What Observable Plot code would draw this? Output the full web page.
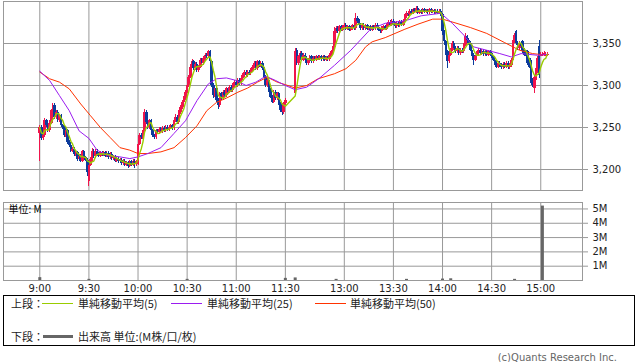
<!DOCTYPE html>
<html><head><meta charset="utf-8">
<script src="https://cdn.jsdelivr.net/npm/d3@7"></script>
<script src="https://cdn.jsdelivr.net/npm/@observablehq/plot@0.6"></script>
<style>
body{margin:0;background:#fff;}
#root{position:relative;width:638px;height:362px;overflow:hidden;font-family:"DejaVu Sans",sans-serif;background:#fff;}
#root svg{position:absolute;left:0;}
.abs{position:absolute;white-space:nowrap;}
.lg{font-family:"Noto Sans CJK JP",sans-serif;font-size:11px;line-height:14px;color:#222;}
#legend{position:absolute;left:3px;top:295px;width:632px;height:51px;box-sizing:border-box;border:1px solid #000;}
#copy{position:absolute;right:21px;top:352px;font-size:10px;line-height:12px;color:#666;font-family:"DejaVu Sans",sans-serif;}
</style></head><body>
<div id="root">
  <div id="legend"></div>
  <div class="abs lg" style="left:11px;top:296px">上段：</div>
  <div class="abs" style="left:42px;top:303px;width:31px;height:1px;background:#99cc00"></div>
  <div class="abs lg" style="left:78px;top:296px">単純移動平均(5)</div>
  <div class="abs" style="left:171px;top:303px;width:31px;height:1px;background:#9b1cf0"></div>
  <div class="abs lg" style="left:207px;top:296px">単純移動平均(25)</div>
  <div class="abs" style="left:315px;top:303px;width:31px;height:1px;background:#ff3300"></div>
  <div class="abs lg" style="left:350px;top:296px">単純移動平均(50)</div>
  <div class="abs lg" style="left:11px;top:329px">下段：</div>
  <div class="abs" style="left:43px;top:335px;width:30px;height:3px;background:#666"></div>
  <div class="abs lg" style="left:78px;top:329px">出来高 単位:(M株/口/枚)</div>
  <div id="copy">(c)Quants Research Inc.</div>
</div>
<script>
// ---- tick data ----
const tickSlots  = [0, 30, 60, 90, 120, 150, 186, 216, 246, 276, 306];
const tickLabels = ["9:00","9:30","10:00","10:30","11:00","11:30","13:00","13:30","14:00","14:30","15:00"];
const priceTicks = [3200, 3250, 3300, 3350];
const volTicks   = [1, 2, 3, 4, 5];
const afternoonStartSlot = 156;

// ---- morning 1-minute candles (9:00-11:30) ----
const amOpen = [
3243,3250,3237,3240,3258,3252,3246,3255,3270,3276,
3262,3268,3258,3264,3252,3250,3240,3246,3232,3228,
3222,3224,3218,3220,3212,3216,3210,3221,3214,3211,
3186,3205,3212,3222,3215,3222,3218,3216,3220,3218,
3220,3216,3219,3214,3218,3213,3215,3210,3212,3209,
3211,3207,3210,3205,3208,3204,3209,3205,3210,3206,
3208,3230,3241,3238,3245,3268,3256,3250,3258,3246,
3240,3238,3246,3244,3248,3245,3249,3246,3250,3247,
3250,3252,3249,3258,3262,3256,3268,3274,3280,3284,
3292,3300,3310,3322,3328,3320,3325,3318,3322,3330,
3326,3332,3336,3334,3340,3328,3300,3288,3296,3282,
3276,3290,3284,3292,3288,3296,3292,3298,3294,3300,
3304,3300,3306,3302,3308,3312,3316,3312,3316,3314,
3318,3322,3326,3320,3328,3324,3326,3320,3310,3300,
3306,3294,3286,3280,3292,3284,3290,3278,3270,3268,
3278];
const amHigh = [
3252,3252,3244,3261,3260,3254,3258,3272,3279,3278,
3270,3270,3266,3266,3254,3252,3248,3248,3234,3230,
3226,3226,3222,3222,3218,3218,3223,3223,3216,3213,
3207,3214,3225,3224,3224,3224,3220,3222,3221,3222,
3222,3221,3221,3220,3220,3217,3217,3214,3214,3213,
3213,3212,3212,3210,3210,3211,3211,3212,3212,3211,
3233,3243,3243,3247,3271,3270,3258,3260,3260,3248,
3242,3248,3248,3250,3250,3251,3251,3252,3252,3252,
3254,3254,3260,3265,3264,3270,3276,3282,3287,3294,
3303,3312,3325,3331,3330,3327,3327,3324,3332,3332,
3334,3338,3338,3342,3342,3330,3302,3298,3298,3284,
3292,3292,3294,3294,3298,3298,3300,3300,3302,3306,
3306,3308,3308,3310,3314,3318,3318,3318,3318,3320,
3324,3328,3328,3330,3330,3328,3328,3322,3312,3308,
3308,3296,3288,3294,3294,3292,3292,3280,3272,3280,
3284];
const amLow = [
3210,3235,3235,3238,3250,3244,3244,3253,3268,3260,
3260,3256,3256,3250,3248,3238,3238,3230,3226,3220,
3220,3216,3216,3210,3210,3208,3208,3212,3209,3192,
3180,3203,3210,3213,3213,3216,3214,3214,3216,3216,
3214,3214,3212,3212,3211,3211,3208,3208,3207,3207,
3205,3205,3203,3203,3201,3202,3203,3203,3201,3204,
3205,3228,3236,3236,3243,3254,3248,3248,3244,3238,
3236,3236,3242,3242,3243,3243,3244,3244,3245,3245,
3248,3247,3247,3256,3254,3254,3266,3272,3278,3282,
3290,3298,3308,3320,3318,3318,3316,3316,3320,3324,
3324,3330,3332,3332,3326,3298,3284,3286,3280,3272,
3274,3282,3282,3286,3286,3290,3290,3292,3292,3298,
3298,3298,3300,3300,3306,3310,3310,3310,3312,3312,
3316,3320,3318,3318,3322,3322,3318,3308,3298,3298,
3292,3284,3278,3278,3282,3282,3276,3268,3264,3266,
3276];
const amClose = [
3250,3237,3240,3258,3252,3246,3255,3270,3276,3262,
3268,3258,3264,3252,3250,3240,3246,3232,3228,3222,
3224,3218,3220,3212,3216,3210,3221,3214,3211,3196,
3205,3212,3222,3215,3222,3218,3216,3220,3218,3220,
3216,3219,3214,3218,3213,3215,3210,3212,3209,3211,
3207,3210,3205,3208,3204,3209,3205,3210,3206,3209,
3230,3241,3238,3245,3268,3256,3250,3258,3246,3240,
3238,3246,3244,3248,3245,3249,3246,3250,3247,3250,
3252,3249,3258,3262,3256,3268,3274,3280,3284,3292,
3300,3310,3322,3328,3320,3325,3318,3322,3330,3326,
3332,3336,3334,3340,3328,3300,3288,3296,3282,3276,
3290,3284,3292,3288,3296,3292,3298,3294,3300,3304,
3300,3306,3302,3308,3312,3316,3312,3316,3314,3318,
3322,3326,3320,3328,3324,3326,3320,3310,3300,3306,
3294,3286,3280,3292,3284,3290,3278,3270,3268,3278,
3282];

// ---- afternoon 1-minute candles (12:30-15:00) ----
const pmOpen = [
3290,3342,3326,3334,3338,3330,3336,3332,3326,3330,
3334,3328,3332,3330,3334,3332,3334,3331,3334,3330,
3333,3331,3336,3340,3345,3364,3368,3364,3370,3366,
3369,3372,3367,3370,3366,3368,3371,3368,3380,3376,
3372,3368,3372,3368,3371,3367,3370,3366,3370,3368,
3372,3369,3366,3364,3368,3370,3367,3372,3375,3372,
3376,3373,3370,3374,3371,3375,3372,3376,3382,3386,
3384,3388,3386,3390,3388,3392,3386,3389,3387,3390,
3388,3389,3387,3390,3388,3389,3387,3388,3386,3388,
3384,3364,3352,3340,3328,3336,3342,3350,3344,3340,
3344,3338,3342,3340,3348,3358,3354,3350,3342,3336,
3330,3334,3338,3342,3338,3341,3337,3340,3336,3340,
3338,3334,3330,3326,3322,3326,3324,3321,3325,3322,
3326,3321,3324,3330,3352,3364,3350,3344,3350,3352,
3342,3340,3340,3330,3330,3306,3296,3306,3316,3346,
3335,3336,3336,3336,3336];
const pmHigh = [
3344,3344,3336,3340,3340,3338,3338,3334,3332,3336,
3336,3334,3334,3336,3336,3336,3336,3336,3336,3335,
3335,3338,3342,3347,3369,3370,3370,3372,3372,3371,
3374,3374,3372,3372,3370,3373,3373,3386,3382,3378,
3374,3374,3374,3373,3373,3372,3372,3372,3372,3374,
3374,3371,3368,3370,3372,3372,3374,3377,3377,3378,
3378,3375,3376,3376,3377,3377,3378,3384,3388,3388,
3390,3390,3392,3392,3394,3394,3391,3391,3392,3392,
3391,3391,3392,3392,3391,3391,3390,3390,3390,3390,
3386,3366,3354,3342,3338,3344,3352,3352,3346,3346,
3346,3344,3344,3350,3362,3360,3356,3352,3344,3338,
3336,3340,3344,3344,3343,3343,3342,3342,3342,3342,
3340,3336,3332,3328,3328,3328,3326,3327,3327,3328,
3328,3326,3332,3354,3362,3366,3352,3352,3352,3354,
3344,3342,3342,3332,3332,3308,3312,3320,3334,3354,
3339,3339,3340,3339,3339];
const pmLow = [
3288,3324,3324,3332,3328,3328,3330,3324,3324,3328,
3326,3326,3328,3328,3330,3330,3329,3329,3328,3328,
3329,3329,3334,3338,3343,3362,3362,3362,3364,3364,
3367,3365,3365,3364,3364,3366,3366,3366,3374,3370,
3366,3366,3366,3366,3365,3365,3364,3364,3366,3366,
3367,3364,3362,3362,3366,3365,3365,3370,3370,3370,
3371,3368,3368,3369,3369,3370,3370,3374,3380,3382,
3382,3384,3384,3386,3386,3384,3384,3385,3385,3386,
3386,3385,3385,3386,3386,3385,3385,3384,3384,3382,
3360,3348,3336,3320,3326,3334,3340,3342,3338,3338,
3336,3336,3338,3338,3346,3352,3348,3340,3334,3324,
3328,3332,3336,3336,3336,3335,3335,3334,3334,3336,
3332,3328,3324,3320,3320,3322,3319,3319,3320,3320,
3319,3319,3322,3328,3350,3348,3342,3342,3344,3338,
3334,3332,3324,3320,3302,3298,3290,3304,3314,3308,
3334,3335,3335,3335,3335];
const pmClose = [
3340,3326,3334,3338,3330,3336,3332,3326,3330,3334,
3328,3332,3330,3334,3332,3334,3331,3334,3330,3333,
3331,3336,3340,3345,3364,3368,3364,3370,3366,3369,
3372,3367,3370,3366,3368,3371,3368,3380,3376,3372,
3368,3372,3368,3371,3367,3370,3366,3370,3368,3372,
3369,3366,3364,3368,3370,3367,3372,3375,3372,3376,
3373,3370,3374,3371,3375,3372,3376,3382,3386,3384,
3388,3386,3390,3388,3392,3386,3389,3387,3390,3388,
3389,3387,3390,3388,3389,3387,3388,3386,3388,3384,
3364,3352,3340,3328,3336,3342,3350,3344,3340,3344,
3338,3342,3340,3348,3358,3354,3350,3342,3336,3330,
3334,3338,3342,3338,3341,3337,3340,3336,3340,3338,
3334,3330,3326,3322,3326,3324,3321,3325,3322,3326,
3321,3324,3330,3352,3360,3350,3344,3350,3346,3340,
3336,3334,3326,3322,3306,3300,3310,3318,3332,3312,
3337,3337,3338,3337,3337];

// ---- moving averages (include previous-day carry-over) ----
const ma25Slots = [0,6,12,18,24,30,35,41,49,55,60,66,74,82,89,96,103,108,114,120,126,132,138,144,150,156,163,171,180,190,202,211,223,233,245,252,259,265,273,281,288,294,304,310];
const ma25Values = [3317,3306,3288,3270,3246,3237,3223,3217,3215,3213,3215,3219,3226,3243,3258,3282,3302,3308,3309,3306,3300,3304,3311,3306,3300,3295,3298,3309,3324,3342,3367,3374,3377,3383,3386,3374,3360,3346,3342,3338,3334,3338,3336,3337];
const ma50Slots = [0,6,12,18,25,31,37,43,49,55,60,66,74,82,89,96,102,108,114,121,127,133,139,145,150,156,163,170,180,187,193,199,203,211,223,231,240,246,253,263,273,284,293,301,310];
const ma50Values = [3316,3308,3304,3296,3278,3264,3250,3238,3226,3223,3219,3219,3221,3226,3238,3252,3270,3280,3285,3292,3297,3304,3310,3304,3301,3297,3300,3308,3314,3320,3330,3346,3352,3357,3367,3373,3379,3379,3375,3369,3362,3351,3342,3338,3336];

// ---- volume (M shares) ----
const volSlots  = [0, 30, 90, 150, 156, 181, 224, 246, 251, 290, 307];
const volValues = [0.2, 0.08, 0.08, 0.15, 0.18, 0.08, 0.08, 0.1, 0.12, 0.08, 5.2];

// ---- build tables ----
const candles = [];
amOpen.forEach((o, i) => candles.push({slot: i, open: o, high: amHigh[i], low: amLow[i], close: amClose[i]}));
pmOpen.forEach((o, i) => candles.push({slot: afternoonStartSlot + i, open: o, high: pmHigh[i], low: pmLow[i], close: pmClose[i]}));
const ma25 = ma25Slots.map((s, i) => ({slot: s, v: ma25Values[i]}));
const ma50 = ma50Slots.map((s, i) => ({slot: s, v: ma50Values[i]}));
const volume = volSlots.map((s, i) => ({slot: s, v: volValues[i]}));
const labelBySlot = new Map(tickSlots.map((s, i) => [s, tickLabels[i]]));

const UP = "#f0144c", DOWN = "#0c3b9c", GRID = "#999", TXT = "#222";
const xDomain = [-22.17, 331.5];
const color = d => d.close >= d.open ? UP : DOWN;

const price = Plot.plot({
  width: 638, height: 192,
  marginTop: 1, marginBottom: 2, marginLeft: 3, marginRight: 56,
  x: {domain: xDomain, axis: null},
  y: {domain: [3175, 3400], axis: null},
  style: {fontFamily: "DejaVu Sans", fontSize: "10px", background: "white", color: TXT},
  marks: [
    Plot.gridX(tickSlots, {stroke: GRID, strokeOpacity: 1}),
    Plot.gridY(priceTicks, {stroke: GRID, strokeOpacity: 1}),
    Plot.ruleX(candles, {x: "slot", y1: "low", y2: "high", stroke: color, strokeWidth: 1, shapeRendering: "crispEdges"}),
    Plot.ruleX(candles, {x: "slot", y1: "open", y2: "close", stroke: color, strokeWidth: 2.6, shapeRendering: "crispEdges"}),
    Plot.line(ma50, {x: "slot", y: "v", stroke: "#ff3300", strokeWidth: 1}),
    Plot.line(ma25, {x: "slot", y: "v", stroke: "#9b1cf0", strokeWidth: 1}),
    Plot.lineY(candles, Plot.windowY({k: 5, anchor: "end"}, {x: "slot", y: "close", stroke: "#99cc00", strokeWidth: 1.4})),
    Plot.frame({stroke: GRID}),
    Plot.axisY(priceTicks, {anchor: "right", label: null, tickSize: 5, tickPadding: 5, tickFormat: d3.format(","), stroke: GRID, fill: TXT, textAnchor: "start", fontSize: 10})
  ]
});

const vol = Plot.plot({
  width: 638, height: 106,
  marginTop: 10, marginBottom: 18, marginLeft: 3, marginRight: 56,
  x: {domain: xDomain, axis: null},
  y: {domain: [0, 5.45], axis: null},
  style: {fontFamily: "DejaVu Sans", fontSize: "10px", background: "white", color: TXT},
  marks: [
    Plot.gridX(tickSlots, {stroke: GRID, strokeOpacity: 1}),
    Plot.gridY(volTicks, {stroke: GRID, strokeOpacity: 1}),
    Plot.ruleX(volume, {x: "slot", y1: 0, y2: "v", stroke: "#666", strokeWidth: 3}),
    Plot.frame({stroke: GRID}),
    Plot.text(["単位: M"], {frameAnchor: "top-left", dx: 5, dy: 7, lineAnchor: "middle", textAnchor: "start", fill: "#000", fontSize: 10, fontFamily: "Noto Sans CJK JP"}),
    Plot.axisY(volTicks, {anchor: "right", label: null, tickSize: 5, tickPadding: 5, tickFormat: d => d + "M", stroke: GRID, fill: TXT, textAnchor: "start", fontSize: 10}),
    Plot.axisX(tickSlots, {anchor: "bottom", label: null, tickSize: 0, tickPadding: 4, tickFormat: d => labelBySlot.get(d), fill: TXT, fontSize: 10})
  ]
});

const root = document.getElementById("root");
price.style.top = "0px";
vol.style.top = "192px";
root.insertBefore(vol, root.firstChild);
root.insertBefore(price, root.firstChild);
</script>
</body></html>
